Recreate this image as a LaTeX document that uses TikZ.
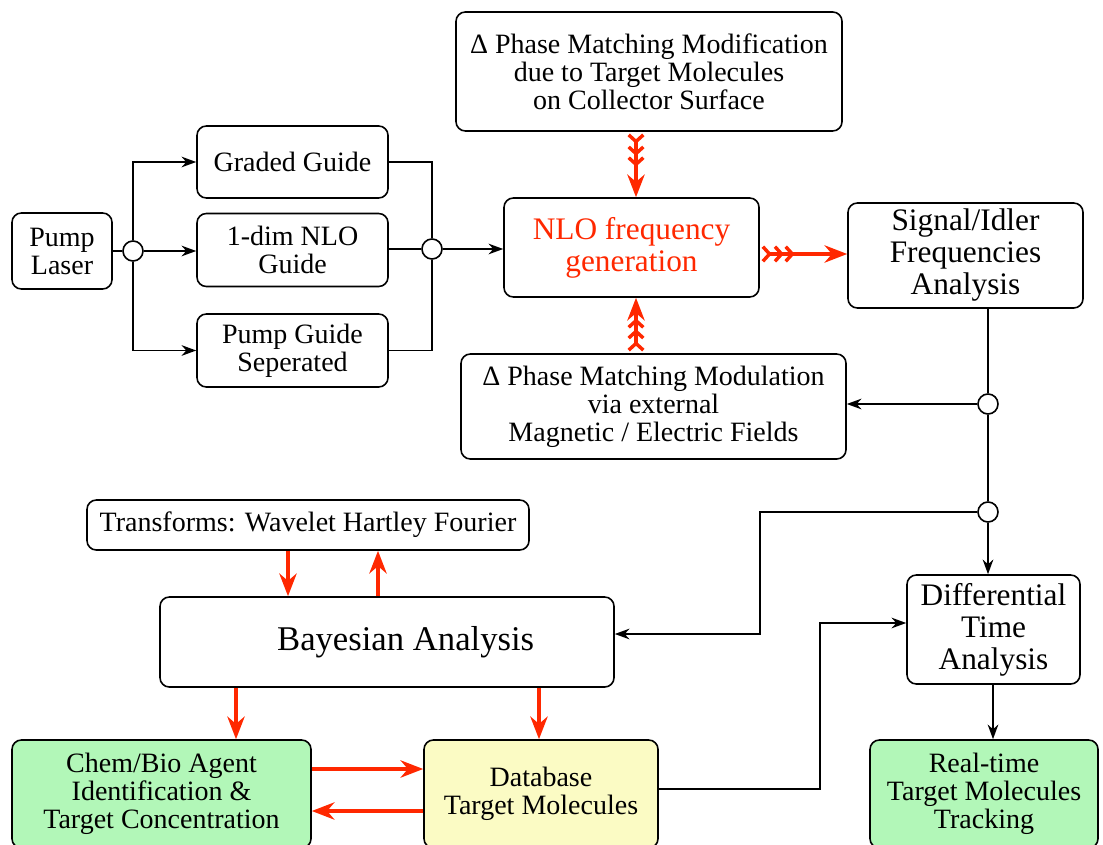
\documentclass[tikz,border=0pt]{standalone}
\usepackage{fontspec}
\setmainfont{Liberation Serif}
\usetikzlibrary{arrows.meta}
\definecolor{myred}{RGB}{255,40,0}
\definecolor{mygreen}{RGB}{178,247,184}
\definecolor{myyellow}{RGB}{251,251,196}
\begin{document}
\begin{tikzpicture}[x=0.75pt,y=-0.75pt,
 box/.style={draw, line width=1.2pt, rounded corners=7pt, align=center, inner sep=0pt, font=\fontsize{21}{21}\selectfont},
 big/.style={font=\fontsize{23.5}{24}\selectfont},
 junc/.style={draw, circle, line width=1.2pt, fill=white, minimum size=15pt, inner sep=0pt},
 conn/.style={line width=1.2pt},
 arr/.style={conn, -{Stealth[length=11pt,width=8pt]}},
 rarr/.style={line width=2.6pt, myred, -{Stealth[length=17pt,width=13pt]}},
 farr/.style={line width=2.6pt, myred, {Straight Barb[reversed,length=5pt,width=11pt,sep=1pt] Straight Barb[reversed,length=5pt,width=11pt,sep=1pt] Straight Barb[reversed,length=5pt,width=11pt]}-{Stealth[length=17pt,width=13pt]}},
]
\useasboundingbox (0,0) rectangle (1103,845);
% nodes
\node[box, minimum width=75pt, minimum height=57pt] (pump) at (62,251) {Pump\\Laser};
\node[box, minimum width=143.25pt, minimum height=54pt] (gg) at (292.5,162) {Graded Guide};
\node[box, minimum width=143.25pt, minimum height=54.75pt] (od) at (292.5,250) {1-dim NLO\\Guide};
\node[box, minimum width=143.25pt, minimum height=54.75pt] (pg) at (292.5,350.5) {Pump Guide\\Seperated};
\node[box, big, text=myred, minimum width=191.25pt, minimum height=74.25pt] (nlo) at (631.5,247.5) {NLO frequency\\generation};
\node[box, minimum width=289.5pt, minimum height=89.25pt] (mod) at (649,71.5) {Δ Phase Matching Modification\\due to Target Molecules\\on Collector Surface};
\node[box, minimum width=288.75pt, minimum height=78.75pt] (modu) at (653.5,406.5) {Δ Phase Matching Modulation\\via external\\Magnetic / Electric Fields};
\node[box, big, minimum width=176.25pt, minimum height=78.75pt] (sig) at (965.5,255.5) {Signal/Idler\\Frequencies\\Analysis};
\node[box, minimum width=331.5pt, minimum height=37.5pt] (tr) at (308,525) {Transforms: Wavelet Hartley Fourier};
\node[box, font=\fontsize{26}{26}\selectfont, minimum width=340.5pt, minimum height=67.5pt] (bay) at (387,642) {\hspace*{28pt}Bayesian Analysis};
\node[box, big, minimum width=129.75pt, minimum height=81.75pt] (dt) at (993.5,629.5) {Differential\\Time\\Analysis};
\node[box, fill=mygreen, minimum width=224.25pt, minimum height=81pt] (chem) at (161.5,794) {Chem/Bio Agent\\Identification \&\\Target Concentration};
\node[box, fill=myyellow, minimum width=175.5pt, minimum height=81pt] (db) at (541,794) {Database\\Target Molecules};
\node[box, fill=mygreen, minimum width=171pt, minimum height=81pt] (rt) at (984,794) {Real-time\\Target Molecules\\Tracking};
% junctions
\node[junc] (lc) at (133,251) {};
\node[junc] (rc) at (432,249) {};
\node[junc] (c1) at (988,404) {};
\node[junc] (c2) at (988,512) {};
% helper coordinates
\coordinate (xa) at (636,0);
\coordinate (ya) at (0,254);
\coordinate (xb) at (288,0);
\coordinate (xc) at (378,0);
\coordinate (xd) at (236,0);
\coordinate (xe) at (539,0);
\coordinate (yb) at (0,769);
\coordinate (yc) at (0,811);
\coordinate (yd) at (0,789);
\coordinate (xf) at (993,0);
\coordinate (j1) at (760,634);
\coordinate (j2) at (820,623);
% black connectors
\draw[conn] (pump.east) -- (lc.west);
\draw[arr] (lc.north) |- (gg.west);
\draw[arr] (lc.east) -- (lc.east -| od.west);
\draw[arr] (lc.south) |- (pg.west);
\draw[conn] (gg.east) -| (rc.north);
\draw[conn] (od.east |- rc.west) -- (rc.west);
\draw[conn] (pg.east) -| (rc.south);
\draw[arr] (rc.east) -- (rc.east -| nlo.west);
\draw[conn] (sig.south -| c1) -- (c1.north);
\draw[arr] (c1.west) -- (c1.west -| modu.east);
\draw[conn] (c1.south) -- (c2.north);
\draw[arr] (c2.south) -- (c2.south |- dt.north);
\draw[arr] (c2.west) -| (j1) -- (j1 -| bay.east);
\draw[arr] (db.east |- yd) -| (j2) -- (j2 -| dt.west);
\draw[arr] (dt.south -| xf) -- (rt.north -| xf);
% red connectors
\draw[farr] (mod.south -| xa) -- (nlo.north -| xa);
\draw[farr] (modu.north -| xa) -- (nlo.south -| xa);
\draw[farr] (nlo.east |- ya) -- (sig.west |- ya);
\draw[rarr] (tr.south -| xb) -- (bay.north -| xb);
\draw[rarr] (bay.north -| xc) -- (tr.south -| xc);
\draw[rarr] (bay.south -| xd) -- (chem.north -| xd);
\draw[rarr] (bay.south -| xe) -- (db.north -| xe);
\draw[rarr] (chem.east |- yb) -- (db.west |- yb);
\draw[rarr] (db.west |- yc) -- (chem.east |- yc);
\end{tikzpicture}
\end{document}
